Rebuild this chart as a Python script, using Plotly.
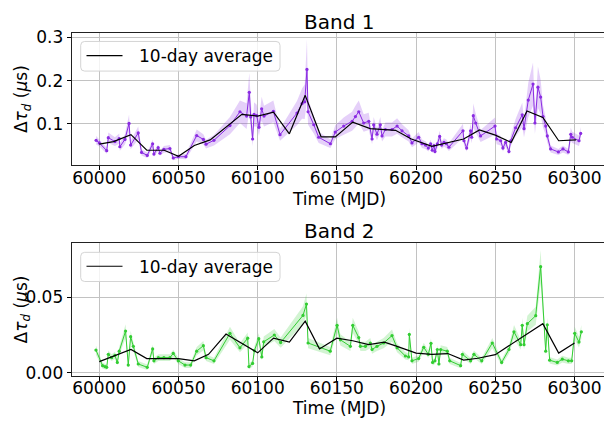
import plotly.graph_objects as go

# ---- Band 1: per-epoch delay variation (us), 1-sigma errors, and 10-day averages ----
band1_mjd = [59998.0, 60000.0, 60004.7, 60005.7, 60009.9, 60012.6, 60013.0, 60016.2, 60018.8, 60019.8,
             60024.6, 60026.7, 60030.3, 60033.7, 60034.5, 60037.2, 60038.3, 60040.8, 60044.6, 60046.7,
             60049.9, 60054.7, 60061.5, 60065.7, 60067.4, 60072.4, 60082.5, 60088.8, 60093.0, 60094.7,
             60095.6, 60096.8, 60097.7, 60099.4, 60100.8, 60102.5, 60104.0, 60109.9, 60114.1, 60124.8,
             60128.0, 60129.7, 60131.1, 60131.8, 60135.4, 60138.5, 60145.9, 60149.0, 60154.3, 60159.6,
             60161.7, 60163.8, 60166.9, 60170.1, 60172.2, 60173.2, 60175.3, 60177.4, 60178.5, 60180.6,
             60184.8, 60188.0, 60191.1, 60195.3, 60197.4, 60201.6, 60203.7, 60205.9, 60207.7, 60209.2,
             60210.2, 60211.3, 60211.9, 60213.4, 60214.9, 60216.1, 60217.6, 60219.1, 60220.7, 60229.6,
             60230.2, 60231.9, 60234.4, 60235.1, 60236.1, 60237.6, 60240.7, 60249.8, 60250.8, 60253.4,
             60254.8, 60256.5, 60258.6, 60259.7, 60262.8, 60267.0, 60268.1, 60270.8, 60273.8, 60275.0,
             60276.9, 60278.6, 60280.1, 60281.8, 60282.8, 60284.9, 60289.8, 60292.7, 60296.1, 60297.6,
             60298.6, 60302.8, 60303.9]
band1_delay = [0.062, 0.056, 0.038, 0.068, 0.059, 0.066, 0.047, 0.064, 0.101, 0.051,
               0.079, 0.034, 0.027, 0.054, 0.030, 0.045, 0.032, 0.041, 0.043, 0.021,
               0.024, 0.024, 0.073, 0.064, 0.053, 0.062, 0.096, 0.128, 0.118, 0.173,
               0.116, 0.065, 0.122, 0.119, 0.092, 0.135, 0.118, 0.129, 0.075, 0.125,
               0.147, 0.151, 0.226, 0.128, 0.098, 0.069, 0.054, 0.081, 0.095, 0.106,
               0.117, 0.128, 0.102, 0.106, 0.065, 0.098, 0.076, 0.098, 0.072, 0.087,
               0.087, 0.095, 0.084, 0.072, 0.056, 0.069, 0.054, 0.051, 0.044, 0.054,
               0.039, 0.050, 0.036, 0.054, 0.071, 0.051, 0.057, 0.054, 0.046, 0.084,
               0.061, 0.044, 0.084, 0.069, 0.119, 0.102, 0.072, 0.095, 0.065, 0.061,
               0.044, 0.057, 0.036, 0.061, 0.091, 0.121, 0.089, 0.155, 0.192, 0.102,
               0.185, 0.162, 0.117, 0.095, 0.072, 0.042, 0.035, 0.042, 0.035, 0.076,
               0.069, 0.061, 0.078]
band1_err = [0.010, 0.008, 0.007, 0.012, 0.010, 0.012, 0.009, 0.012, 0.020, 0.010,
             0.015, 0.007, 0.006, 0.010, 0.006, 0.008, 0.006, 0.008, 0.008, 0.005,
             0.005, 0.006, 0.014, 0.012, 0.010, 0.012, 0.020, 0.026, 0.030, 0.045,
             0.028, 0.016, 0.028, 0.025, 0.020, 0.028, 0.024, 0.025, 0.014, 0.028,
             0.035, 0.040, 0.070, 0.030, 0.020, 0.013, 0.010, 0.016, 0.020, 0.022,
             0.025, 0.026, 0.020, 0.020, 0.012, 0.018, 0.014, 0.018, 0.013, 0.016,
             0.016, 0.018, 0.015, 0.013, 0.010, 0.012, 0.010, 0.009, 0.008, 0.009,
             0.007, 0.009, 0.007, 0.010, 0.013, 0.009, 0.010, 0.010, 0.009, 0.016,
             0.011, 0.008, 0.017, 0.014, 0.028, 0.022, 0.014, 0.020, 0.012, 0.011,
             0.008, 0.010, 0.007, 0.012, 0.020, 0.028, 0.020, 0.040, 0.050, 0.025,
             0.048, 0.040, 0.026, 0.020, 0.015, 0.008, 0.007, 0.008, 0.007, 0.015,
             0.013, 0.012, 0.015]
band1_avg_mjd = [60000, 60009, 60020, 60030, 60041, 60050, 60060, 60070, 60090, 60100,
                 60110, 60120, 60130, 60140, 60149, 60160, 60171, 60187, 60197, 60210,
                 60230, 60240, 60250, 60260, 60270, 60280, 60290, 60301]
band1_avg = [0.053, 0.059, 0.075, 0.039, 0.039, 0.025, 0.050, 0.063, 0.122, 0.118,
             0.127, 0.077, 0.166, 0.070, 0.070, 0.104, 0.089, 0.085, 0.065, 0.048,
             0.065, 0.086, 0.074, 0.057, 0.130, 0.115, 0.061, 0.063]

# ---- Band 2 ----
band2_mjd = [59997.9, 60002.1, 60003.6, 60004.7, 60005.7, 60007.8, 60009.9, 60011.4, 60012.6, 60016.6,
             60018.3, 60019.8, 60021.5, 60024.6, 60030.3, 60033.7, 60034.5, 60037.3, 60040.8, 60044.6,
             60046.7, 60049.9, 60054.1, 60057.7, 60061.5, 60065.7, 60067.4, 60072.4, 60082.5, 60088.8,
             60093.7, 60094.5, 60096.8, 60097.9, 60100.7, 60102.6, 60103.8, 60110.5, 60114.5, 60128.6,
             60130.8, 60131.8, 60145.8, 60150.1, 60152.2, 60158.5, 60160.0, 60163.8, 60164.8, 60168.0,
             60171.1, 60172.2, 60175.3, 60179.5, 60184.8, 60188.0, 60193.2, 60195.3, 60195.7, 60197.4,
             60201.6, 60204.8, 60207.7, 60209.4, 60210.4, 60211.9, 60213.4, 60214.4, 60215.5, 60219.7,
             60221.2, 60228.1, 60229.2, 60234.4, 60236.5, 60241.4, 60248.1, 60254.0, 60258.6, 60261.8,
             60266.0, 60267.0, 60268.1, 60270.2, 60275.5, 60278.6, 60281.8, 60282.8, 60284.3, 60289.1,
             60292.3, 60296.1, 60298.2, 60300.1, 60302.8, 60304.3]
band2_delay = [0.0150, 0.0047, 0.0041, 0.0036, 0.0122, 0.0100, 0.0115, 0.0068, 0.0143, 0.0276,
               0.0051, 0.0239, 0.0175, 0.0058, 0.0036, 0.0158, 0.0079, 0.0100, 0.0100, 0.0100,
               0.0128, 0.0079, 0.0051, 0.0051, 0.0143, 0.0179, 0.0100, 0.0079, 0.0261, 0.0165,
               0.0229, 0.0041, 0.0062, 0.0147, 0.0226, 0.0105, 0.0205, 0.0250, 0.0200, 0.0380,
               0.0455, 0.0197, 0.0143, 0.0314, 0.0218, 0.0175, 0.0314, 0.0233, 0.0175, 0.0175,
               0.0197, 0.0154, 0.0175, 0.0197, 0.0246, 0.0165, 0.0111, 0.0105, 0.0254, 0.0079,
               0.0094, 0.0169, 0.0122, 0.0195, 0.0068, 0.0079, 0.0154, 0.0058, 0.0154, 0.0143,
               0.0079, 0.0047, 0.0122, 0.0079, 0.0122, 0.0079, 0.0197, 0.0068, 0.0154, 0.0271,
               0.0186, 0.0314, 0.0186, 0.0325, 0.0378, 0.0703, 0.0143, 0.0318, 0.0083, 0.0068,
               0.0090, 0.0079, 0.0079, 0.0261, 0.0203, 0.0271]
band2_err = [0.0030, 0.0020, 0.0018, 0.0018, 0.0025, 0.0022, 0.0024, 0.0019, 0.0027, 0.0045,
             0.0020, 0.0040, 0.0031, 0.0020, 0.0018, 0.0029, 0.0021, 0.0023, 0.0023, 0.0023,
             0.0025, 0.0021, 0.0019, 0.0019, 0.0027, 0.0032, 0.0023, 0.0021, 0.0043, 0.0030,
             0.0038, 0.0018, 0.0020, 0.0028, 0.0038, 0.0023, 0.0035, 0.0040, 0.0034, 0.0060,
             0.0070, 0.0034, 0.0027, 0.0050, 0.0037, 0.0031, 0.0050, 0.0039, 0.0031, 0.0031,
             0.0034, 0.0028, 0.0031, 0.0034, 0.0040, 0.0030, 0.0024, 0.0023, 0.0042, 0.0021,
             0.0022, 0.0030, 0.0025, 0.0034, 0.0020, 0.0021, 0.0028, 0.0019, 0.0028, 0.0027,
             0.0021, 0.0018, 0.0025, 0.0021, 0.0025, 0.0021, 0.0034, 0.0020, 0.0028, 0.0045,
             0.0033, 0.0050, 0.0033, 0.0052, 0.0060, 0.0110, 0.0027, 0.0050, 0.0021, 0.0020,
             0.0022, 0.0021, 0.0021, 0.0043, 0.0035, 0.0045]
band2_avg_mjd = [60000, 60010, 60020, 60030, 60040, 60050, 60060, 60069, 60080, 60100,
                 60110, 60120, 60130, 60139, 60150, 60160, 60170, 60180, 60188, 60200,
                 60210, 60220, 60230, 60239, 60250, 60260, 60270, 60280, 60290, 60300]
band2_avg = [0.0074, 0.0112, 0.0154, 0.0094, 0.0094, 0.0094, 0.0079, 0.0122, 0.0256, 0.0132,
             0.0229, 0.0203, 0.0342, 0.0158, 0.0229, 0.0212, 0.0186, 0.0203, 0.0175, 0.0130,
             0.0122, 0.0127, 0.0084, 0.0096, 0.0120, 0.0190, 0.0257, 0.0325, 0.0130, 0.0197]

mjd_ticks = [60000, 60050, 60100, 60150, 60200, 60250, 60300]
mjd_ticktext = ["60000", "60050", "60100", "60150", "60200", "60250", "60300"]
band1_ticks = [0.1, 0.2, 0.3]
band1_ticktext = ["0.1", "0.2", "0.3"]
band2_ticks = [0.0, 0.05]
band2_ticktext = ["0.00", "0.05"]

W, H = 604, 426
FONT = "DejaVu Sans"
PURPLE = "#8a2be2"
GREEN = "#32cd32"

# panel geometry in pixels (left, right, top, bottom)
AX_L, AX_R = 71.7, 604.0
P1_T, P1_B = 28.5, 165.0
P2_T, P2_B = 245.0, 381.5


def px(x):
    return x / W


def py(y):
    return (H - y) / H


fig = go.Figure()


def add_band(mjd, delay, err, avg_mjd, avg, color, fill, xa, ya):
    lo = [v - e for v, e in zip(delay, err)]
    hi = [v + e for v, e in zip(delay, err)]
    fig.add_trace(go.Scatter(x=mjd, y=lo, mode="lines", line=dict(width=0, color=color),
                             hoverinfo="skip", showlegend=False, xaxis=xa, yaxis=ya))
    fig.add_trace(go.Scatter(x=mjd, y=hi, mode="lines", line=dict(width=0, color=color),
                             fill="tonexty", fillcolor=fill, hoverinfo="skip",
                             showlegend=False, xaxis=xa, yaxis=ya))
    fig.add_trace(go.Scatter(x=mjd, y=delay, mode="lines+markers",
                             line=dict(color=color, width=1),
                             marker=dict(size=3.2, color=color),
                             showlegend=False, xaxis=xa, yaxis=ya))
    fig.add_trace(go.Scatter(x=avg_mjd, y=avg, mode="lines", name="10-day average",
                             line=dict(color="black", width=1.2),
                             showlegend=False, xaxis=xa, yaxis=ya))


add_band(band1_mjd, band1_delay, band1_err, band1_avg_mjd, band1_avg,
         PURPLE, "rgba(138,43,226,0.22)", "x", "y")
add_band(band2_mjd, band2_delay, band2_err, band2_avg_mjd, band2_avg,
         GREEN, "rgba(50,205,50,0.22)", "x2", "y2")

xcommon = dict(range=[59982.6, 60318.6], tickvals=mjd_ticks, ticktext=mjd_ticktext,
               ticks="outside", ticklen=4, tickwidth=1, tickcolor="black",
               ticklabelstandoff=-7,
               showgrid=True, gridcolor="#c2c2c2", gridwidth=1.1,
               showline=True, linecolor="#222222", linewidth=1.1, mirror=True,
               zeroline=False, tickfont=dict(family=FONT, size=17, color="black"),
               domain=[px(AX_L), px(AX_R)])
ycommon = dict(ticks="outside", ticklen=4, tickwidth=1, tickcolor="black",
               showgrid=True, gridcolor="#c2c2c2", gridwidth=1.1,
               showline=True, linecolor="#222222", linewidth=1.1,
               zeroline=False, tickfont=dict(family=FONT, size=17, color="black"))

fig.update_layout(
    width=W, height=H,
    margin=dict(l=0, r=0, t=0, b=0),
    paper_bgcolor="white", plot_bgcolor="white",
    showlegend=False,
    xaxis=dict(anchor="y", **xcommon),
    yaxis=dict(anchor="x", domain=[py(P1_B), py(P1_T)], range=[0.004, 0.311],
               tickvals=band1_ticks, ticktext=band1_ticktext, **ycommon),
    xaxis2=dict(anchor="y2", **xcommon),
    yaxis2=dict(anchor="x2", domain=[py(P2_B), py(P2_T)], range=[-0.0020, 0.0859],
                tickvals=band2_ticks, ticktext=band2_ticktext, **ycommon),
)

cx = px((AX_L + 605.7) / 2)
ylab = "Δ<i>τ</i><sub><i>d</i></sub> (<i>μ</i>s)"
annotations = []
for title, ty, xl_y, yl_y in [("Band 1", 17, 199.5, (P1_T + P1_B) / 2),
                              ("Band 2", 233, 415, (P2_T + P2_B) / 2)]:
    annotations.append(dict(text=title, x=cx, y=py(ty), xref="paper", yref="paper",
                            xanchor="center", yanchor="middle", showarrow=False,
                            font=dict(family=FONT, size=20, color="black")))
    annotations.append(dict(text="Time (MJD)", x=cx, y=py(xl_y), xref="paper", yref="paper",
                            xanchor="center", yanchor="middle", showarrow=False,
                            font=dict(family=FONT, size=17, color="black")))
    annotations.append(dict(text=ylab, x=px(22), y=py(yl_y), xref="paper", yref="paper",
                            xanchor="center", yanchor="middle", showarrow=False, textangle=-90,
                            font=dict(family=FONT, size=17, color="black")))

# legend boxes (rounded frame, sample line and label)
shapes = []


def rounded_box(x0, x1, y0, y1, r=4):
    rx, ry = r / W, r / H
    X0, X1, Yt, Yb = px(x0), px(x1), py(y0), py(y1)
    return (f"M{X0 + rx},{Yt} L{X1 - rx},{Yt} Q{X1},{Yt} {X1},{Yt - ry} "
            f"L{X1},{Yb + ry} Q{X1},{Yb} {X1 - rx},{Yb} L{X0 + rx},{Yb} "
            f"Q{X0},{Yb} {X0},{Yb + ry} L{X0},{Yt - ry} Q{X0},{Yt} {X0 + rx},{Yt} Z")


for top, bot, mid in [(37.5, 68.0, 52.0), (254.5, 284.5, 268.8)]:
    shapes.append(dict(type="path", xref="paper", yref="paper",
                       path=rounded_box(80.7, 280.0, top, bot),
                       fillcolor="rgba(255,255,255,0.8)", line=dict(color="#d4d4d4", width=1),
                       layer="above"))
    shapes.append(dict(type="line", xref="paper", yref="paper",
                       x0=px(86.5), x1=px(122.5), y0=py(mid), y1=py(mid),
                       line=dict(color="black", width=1.2), layer="above"))
    annotations.append(dict(text="10-day average", x=px(136.5), y=py(mid + 0.5),
                            xref="paper", yref="paper", xanchor="left", yanchor="middle",
                            showarrow=False, font=dict(family=FONT, size=17, color="black")))

fig.update_layout(annotations=annotations, shapes=shapes)

fig.write_html("out.html")
